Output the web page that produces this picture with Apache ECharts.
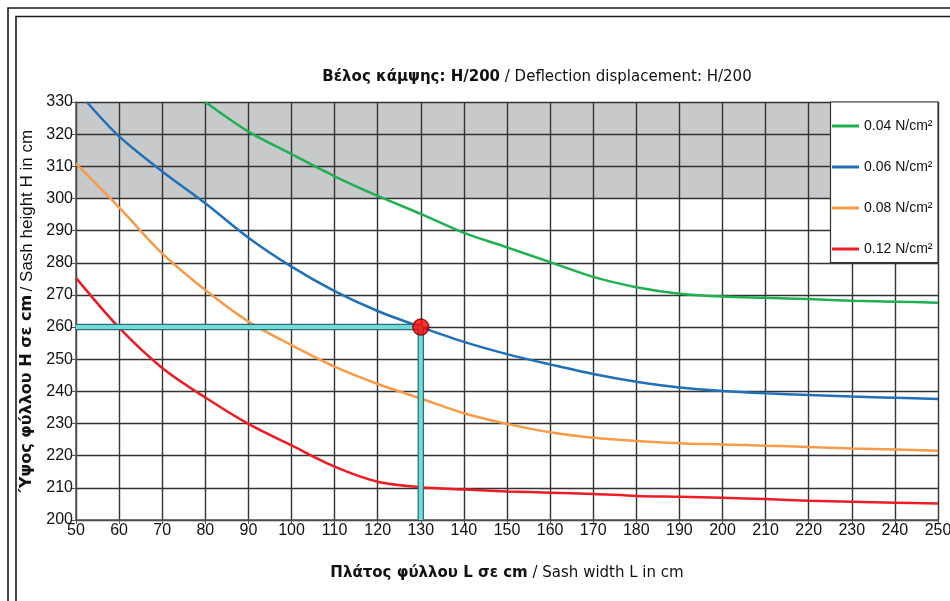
<!DOCTYPE html>
<html>
<head>
<meta charset="utf-8">
<script src="https://cdn.jsdelivr.net/npm/echarts@6/dist/echarts.min.js"></script>
<style>
  html, body { margin: 0; padding: 0; background: #fff; }
  #chart { width: 950px; height: 601px; }
</style>
</head>
<body>
<div id="chart"></div>
<script>
// Wind load curves: sash width L (cm) vs sash height H (cm)
var widths = [50, 60, 70, 80, 90, 100, 110, 120, 130, 140, 150, 160, 170, 180, 190, 200, 210, 220, 230, 240, 250]

var green004X = [80, 90, 100, 110, 120, 130, 140, 150, 160, 170, 180, 190, 200, 210, 220, 230, 240, 250]
var green004Y = [330, 320.8, 313.8, 306.9, 300.8, 295.2, 289.3, 284.8, 280.2, 275.6, 272.4, 270.4, 269.5, 269.1, 268.7, 268.2, 267.9, 267.6]

var blue006X = [52.5, 60, 70, 80, 90, 100, 110, 120, 130, 140, 150, 160, 170, 180, 190, 200, 210, 220, 230, 240, 250]
var blue006Y = [330, 319.3, 308.4, 298.5, 287.8, 278.8, 271.2, 265.0, 260.0, 255.4, 251.6, 248.4, 245.4, 243.0, 241.2, 240.1, 239.4, 238.9, 238.4, 238.0, 237.6]

var orange008Y = [310.8, 297.2, 282.9, 271.5, 261.7, 254.4, 247.7, 242.3, 237.8, 233.2, 229.9, 227.3, 225.6, 224.6, 223.9, 223.5, 223.1, 222.7, 222.2, 221.9, 221.5]
var red012Y = [275.3, 259.8, 247.3, 238.1, 229.9, 223.2, 216.6, 211.9, 210.2, 209.5, 208.9, 208.5, 208.1, 207.5, 207.2, 206.9, 206.5, 206.0, 205.7, 205.4, 205.1]

var seriesNames = ['0.04 N/cm²', '0.06 N/cm²', '0.08 N/cm²', '0.12 N/cm²']
var seriesColors = ['#1fb14f', '#1f70b9', '#f79b48', '#ec1c24']

// reference point and its guide lines
var pointL = 130
var pointH = 260
var guideX = [50, 130, 130]
var guideY = [260, 260, 200]

// grey zone
var zoneFrom = 300
var zoneTo = 330

function pairs(xs, ys) {
  var out = []
  for (var i = 0; i < xs.length; i++) out.push([xs[i], ys[i]])
  return out
}

var curveData = [
  pairs(green004X, green004Y),
  pairs(blue006X, blue006Y),
  pairs(widths, orange008Y),
  pairs(widths, red012Y)
]

var myChart = echarts.init(document.getElementById('chart'))

var curves = curveData.map(function (d, i) {
  return {
    name: seriesNames[i],
    type: 'line',
    data: d,
    z: 4,
    smooth: 0.3,
    showSymbol: false,
    symbol: 'none',
    lineStyle: { color: seriesColors[i], width: 2.5 },
    itemStyle: { color: seriesColors[i] }
  }
})

var option = {
  animation: false,
  title: {
    text: '{b|Βέλος κάμψης: H/200} / Deflection displacement: H/200',
    left: 532,
    top: 65,
    textAlign: 'center',
    textStyle: {
      fontFamily: 'DejaVu Sans',
      fontSize: 15,
      fontWeight: 'normal',
      color: '#111',
      rich: {
        b: { fontFamily: 'DejaVu Sans', fontSize: 15, fontWeight: 'bold', color: '#111' }
      }
    }
  },
  grid: {
    left: 76,
    right: 12,
    top: 102,
    bottom: 81,
    containLabel: false,
    outerBoundsMode: 'none'
  },
  legend: {
    data: seriesNames,
    orient: 'vertical',
    left: 827,
    top: 114,
    itemGap: 27,
    itemWidth: 27,
    itemHeight: 3,
    icon: 'rect',
    z: 12,
    textStyle: { fontFamily: 'Liberation Sans', fontSize: 14, color: '#111' }
  },
  xAxis: {
    type: 'value',
    min: 50,
    max: 250,
    interval: 10,
    z: 3,
    name: '{b|Πλάτος φύλλου L σε cm} / Sash width L in cm',
    nameLocation: 'middle',
    nameGap: 46,
    nameTextStyle: {
      fontFamily: 'DejaVu Sans',
      fontSize: 15,
      color: '#111',
      rich: {
        b: { fontFamily: 'DejaVu Sans', fontSize: 15, fontWeight: 'bold', color: '#111' }
      }
    },
    axisLine: { show: true, lineStyle: { color: '#555', width: 1.5 } },
    axisTick: { show: true, length: 4, lineStyle: { color: '#555' } },
    axisLabel: { fontFamily: 'Liberation Sans', fontSize: 16, color: '#111', margin: 3 },
    splitLine: { show: true, lineStyle: { color: '#333', width: 1.4 } }
  },
  yAxis: {
    type: 'value',
    min: 200,
    max: 330,
    interval: 10,
    z: 3,
    name: '{b|Ύψος φύλλου Η σε cm} {r|/ Sash height H in cm}',
    nameLocation: 'middle',
    nameRotate: 90,
    nameGap: 39,
    nameTextStyle: {
      color: '#111',
      rich: {
        b: { fontFamily: 'DejaVu Sans', fontSize: 16, fontWeight: 'bold', color: '#111' },
        r: { fontFamily: 'Liberation Sans', fontSize: 17, color: '#111' }
      }
    },
    axisLine: { show: true, lineStyle: { color: '#555', width: 1.5 } },
    axisTick: { show: true, length: 4, lineStyle: { color: '#555' } },
    axisLabel: { fontFamily: 'Liberation Sans', fontSize: 16, color: '#111', margin: 3 },
    splitLine: { show: true, lineStyle: { color: '#333', width: 1.4 } }
  },
  graphic: [
    {
      type: 'rect', z: 100, silent: true,
      shape: { x: 8, y: 8, width: 1000, height: 1000 },
      style: { fill: 'none', stroke: '#1a1a1a', lineWidth: 1.6 }
    },
    {
      type: 'rect', z: 100, silent: true,
      shape: { x: 16, y: 16.5, width: 1000, height: 1000 },
      style: { fill: 'none', stroke: '#1a1a1a', lineWidth: 1.6 }
    },
    {
      type: 'rect', z: 10, silent: true,
      shape: { x: 830.5, y: 102, width: 107.5, height: 160.5 },
      style: { fill: '#fff', stroke: '#333', lineWidth: 1.2 }
    }
  ],
  series: [
    {
      // carrier for the grey zone, drawn under the grid lines
      name: 'zone',
      type: 'line',
      data: [],
      z: 1,
      markArea: {
        silent: true,
        itemStyle: { color: '#c8c9cb' },
        data: [[{ xAxis: 50, yAxis: zoneFrom }, { xAxis: 250, yAxis: zoneTo }]]
      }
    }
  ].concat(curves).concat([
    {
      name: 'guideBorder',
      type: 'line',
      data: pairs(guideX, guideY),
      z: 5,
      symbol: 'none',
      lineStyle: { color: '#2f6f70', width: 6.5 }
    },
    {
      name: 'guide',
      type: 'line',
      data: pairs(guideX, guideY),
      z: 6,
      symbol: 'none',
      lineStyle: { color: '#6fdcdc', width: 4 }
    },
    {
      name: 'point',
      type: 'scatter',
      data: [[pointL, pointH]],
      z: 7,
      symbolSize: 16,
      itemStyle: { color: '#ff0000', borderColor: '#7a0000', borderWidth: 1.5 }
    }
  ])
}

myChart.setOption(option)
</script>
</body>
</html>
